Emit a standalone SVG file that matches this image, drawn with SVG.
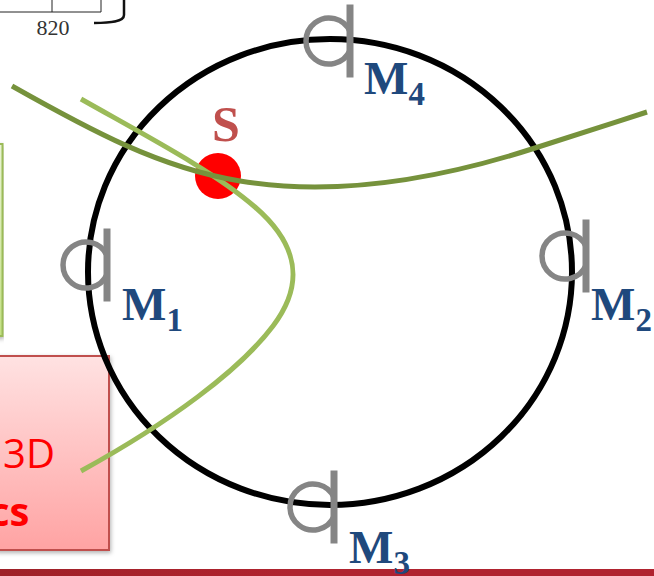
<svg xmlns="http://www.w3.org/2000/svg" width="654" height="576" viewBox="0 0 654 576">
<defs>
<linearGradient id="rg" x1="0" y1="0" x2="0" y2="1"><stop offset="0" stop-color="#ffe2e2"/><stop offset="1" stop-color="#ffa3a3"/></linearGradient>
<linearGradient id="gg" x1="0" y1="0" x2="0" y2="1"><stop offset="0" stop-color="#eaf4d4"/><stop offset="1" stop-color="#c4e184"/></linearGradient>
<linearGradient id="bg" x1="0" y1="0" x2="1" y2="0"><stop offset="0" stop-color="#9e2128"/><stop offset="0.45" stop-color="#b0232f"/></linearGradient>
<filter id="sh" x="-10%" y="-10%" width="125%" height="125%"><feDropShadow dx="1" dy="2" stdDeviation="2" flood-color="#000" flood-opacity="0.3"/></filter>
<g id="mic" fill="none" stroke="#858585">
<path stroke-width="5.500" d="M0 -9.400A23 23 0 1 0 0 9.400"/>
<path stroke-width="7" d="M0 -36.500V36.500"/>
</g>
</defs>
<style>
.lab{font-family:"Liberation Serif",serif;font-weight:bold;font-size:47px;fill:#1f497d}
.sub{font-size:33px}
.curve{fill:none;stroke-width:5}
.box{font-family:"Open Sans",sans-serif;font-size:40px;fill:#f00}
</style>
<rect width="654" height="576" fill="#fff"/>
<g id="figure-fragment">
<path d="M0 12H101V0M52 0V12" fill="none" stroke="#222" stroke-width="1"/>
<path d="M94 23C110 23 124 22 124 15V0" fill="none" stroke="#111" stroke-width="2.500"/>
<text x="53" y="35" font-family="Liberation Serif,serif" font-size="22" fill="#333" text-anchor="middle">820</text>
</g>
<g id="green-box"><rect x="-4" y="144" width="6.500" height="192" fill="url(#gg)" stroke="#9bbb59" stroke-width="2" filter="url(#sh)"/></g>
<g id="red-box">
<rect x="-4" y="356" width="113" height="194" fill="url(#rg)" stroke="#c0504d" stroke-width="2" filter="url(#sh)"/>
<text class="box" x="3" y="468" textLength="52">3D</text>
<text class="box" x="-11" y="526" font-weight="bold">cs</text>
</g>
<g id="circle"><ellipse cx="330" cy="272" rx="242" ry="233" fill="none" stroke="#000" stroke-width="6"/></g>
<g id="source"><circle cx="218" cy="176" r="23" fill="#f00"/><text x="226" y="141" font-family="Liberation Serif,serif" font-weight="bold" font-size="50" fill="#c0504d" text-anchor="middle">S</text></g>
<g id="connectors">
<path class="curve" stroke="#9bbb59" d="M81 99C150 138 215 172 255 207C300 246 304 285 273 326C240 370 170 422 81 471"/>
<path class="curve" stroke="#76923c" d="M12 86C90 130 160 168 240 181C330 196 430 182 535 148C575 135 610 124 647 112"/>
</g>
<g id="M1"><use href="#mic" x="107" y="265"/><text class="lab" x="122" y="320">M<tspan class="sub" dy="11">1</tspan></text></g>
<g id="M2"><use href="#mic" x="586" y="256"/><text class="lab" x="591" y="320">M<tspan class="sub" dy="11">2</tspan></text></g>
<g id="M3"><use href="#mic" x="334" y="507"/></g>
<g id="M4"><use href="#mic" x="350" y="41"/><text class="lab" x="364" y="94">M<tspan class="sub" dy="11">4</tspan></text></g>
<g id="bar"><rect y="569" width="654" height="7" fill="url(#bg)"/></g>
<text class="lab" x="349" y="563">M<tspan class="sub" dy="11">3</tspan></text>
</svg>
